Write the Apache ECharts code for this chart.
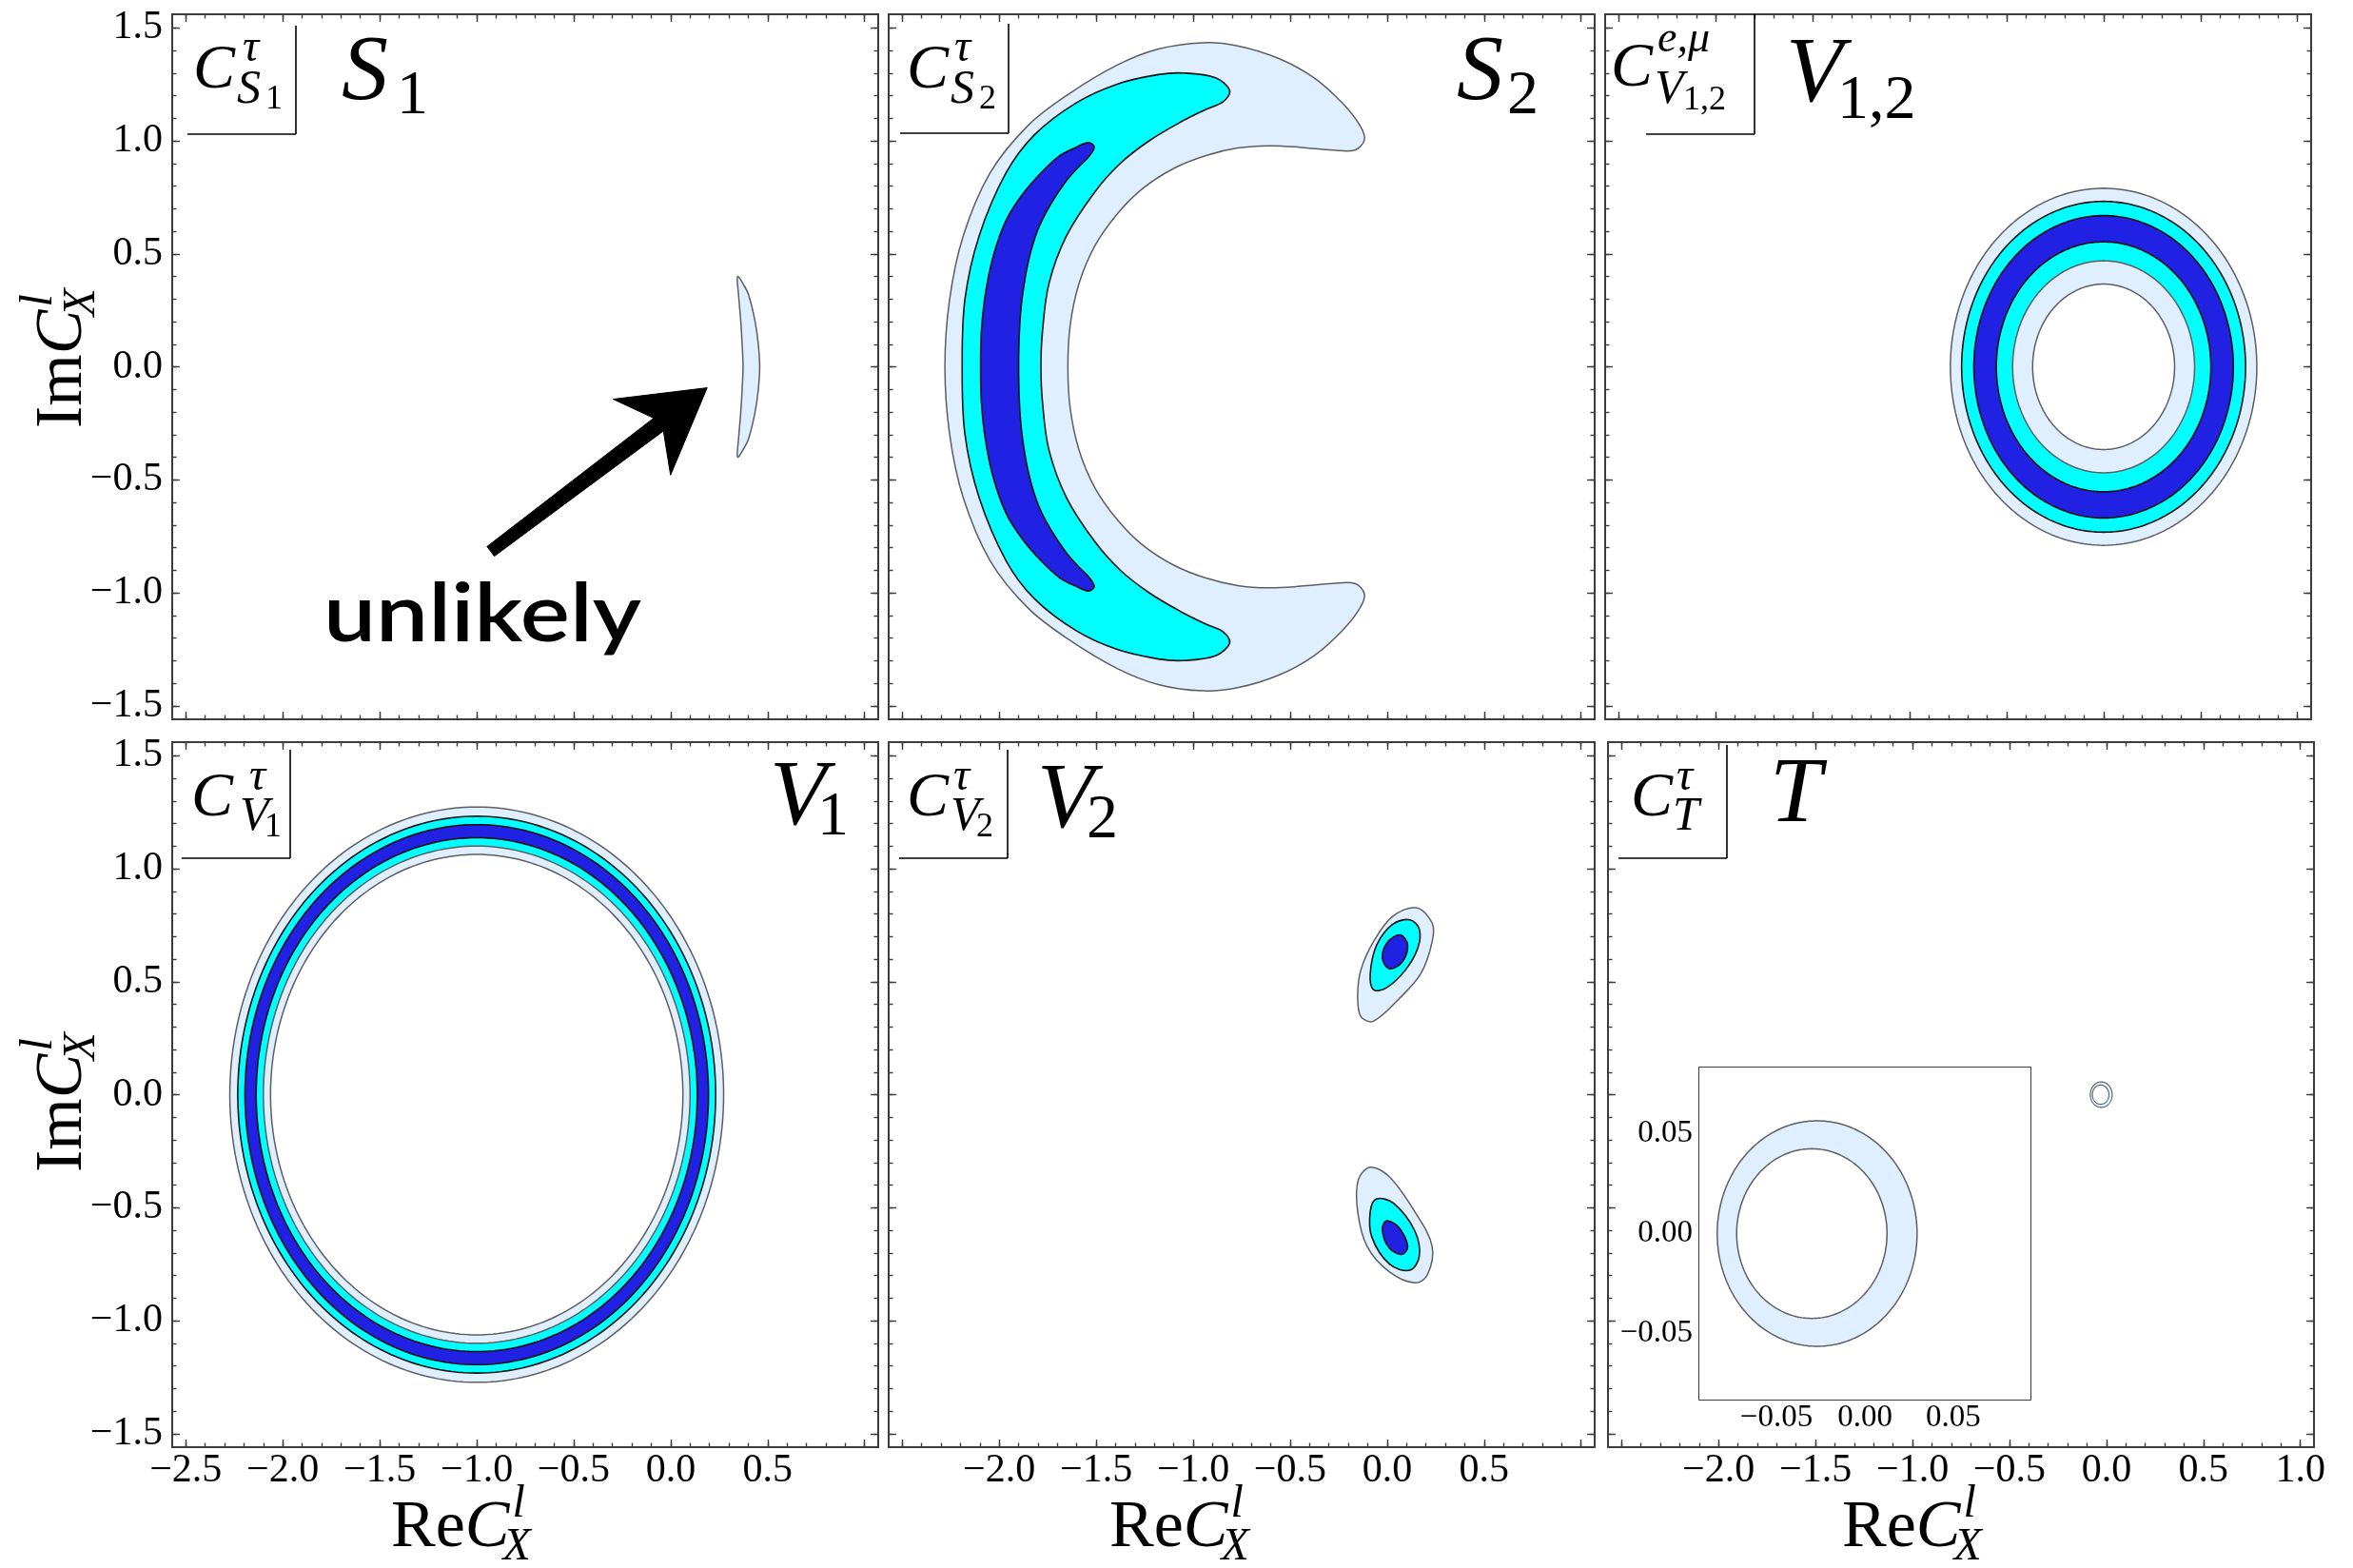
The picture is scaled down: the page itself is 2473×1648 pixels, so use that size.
<!DOCTYPE html>
<html>
<head>
<meta charset="utf-8">
<title>Contours</title>
<script src="https://cdn.jsdelivr.net/npm/echarts@6.0.0/dist/echarts.min.js"></script>
<style>
html,body{margin:0;padding:0;background:#ffffff;}
#chart{width:2473px;height:1648px;}
</style>
</head>
<body>
<div id="chart"></div>
<script>
// ===================== data =====================
const xRange = [-2.57, 1.07];
const yRange = [-1.56, 1.56];
const xMajorTicks = [-2.5, -2.0, -1.5, -1.0, -0.5, 0.0, 0.5, 1.0];
const yMajorTicks = [-1.5, -1.0, -0.5, 0.0, 0.5, 1.0, 1.5];
const yTickLabels = [-1.5, -1.0, -0.5, 0.0, 0.5, 1.0, 1.5];
const xTickLabelsV1 = [-2.5, -2.0, -1.5, -1.0, -0.5, 0.0, 0.5];
const xTickLabelsV2 = [-2.0, -1.5, -1.0, -0.5, 0.0, 0.5];
const xTickLabelsT = [-2.0, -1.5, -1.0, -0.5, 0.0, 0.5, 1.0];
const insetXRange = [-0.0936, 0.0936];
const insetYRange = [-0.0832, 0.0832];
const insetMajorTicks = [-0.05, 0.0, 0.05];
const insetTickLabels = [-0.05, 0.0, 0.05];

// S1: thin sliver
const S1_region = [[0.345,0.400],[0.378,0.360],[0.402,0.318],[0.434,0.206],[0.451,0.107],[0.459,0.000],
  [0.451,-0.107],[0.434,-0.206],[0.402,-0.318],[0.378,-0.360],[0.345,-0.400],[0.350,-0.318],[0.361,-0.206],
  [0.368,-0.107],[0.373,0.000],[0.368,0.107],[0.361,0.206],[0.350,0.318]];

// S2: crescents
const S2_light = [[-2.280,0.000],[-2.256,0.297],[-2.186,0.578],[-2.047,0.858],[-1.850,1.069],[-1.638,1.209],
  [-1.392,1.335],[-1.180,1.406],[-0.951,1.434],[-0.771,1.420],[-0.558,1.364],[-0.378,1.279],[-0.231,1.167],
  [-0.141,1.069],[-0.117,1.006],[-0.166,0.959],
  [-0.280,0.959],[-0.444,0.971],[-0.607,0.978],[-0.771,0.968],[-0.934,0.935],[-1.098,0.879],[-1.262,0.788],
  [-1.392,0.676],[-1.507,0.535],[-1.589,0.367],[-1.634,0.185],[-1.646,0.000],
  [-1.634,-0.185],[-1.589,-0.367],[-1.507,-0.535],[-1.392,-0.676],[-1.262,-0.788],[-1.098,-0.879],
  [-0.934,-0.935],[-0.771,-0.968],[-0.607,-0.978],[-0.444,-0.971],[-0.280,-0.959],[-0.166,-0.959],
  [-0.117,-1.006],[-0.141,-1.069],[-0.231,-1.167],[-0.378,-1.279],[-0.558,-1.364],[-0.771,-1.420],
  [-0.951,-1.434],[-1.180,-1.406],[-1.392,-1.335],[-1.638,-1.209],[-1.850,-1.069],[-2.047,-0.858],
  [-2.186,-0.578],[-2.256,-0.297]];
const S2_cyan = [[-2.191,0.000],[-2.177,0.297],[-2.104,0.578],[-1.965,0.858],[-1.818,1.027],[-1.605,1.167],
  [-1.392,1.251],[-1.180,1.293],[-1.049,1.300],[-0.885,1.279],[-0.812,1.223],[-0.844,1.174],
  [-0.934,1.139],[-1.065,1.083],[-1.229,0.999],[-1.376,0.900],[-1.507,0.774],[-1.654,0.578],[-1.744,0.367],
  [-1.777,0.156],[-1.785,0.000],
  [-1.777,-0.156],[-1.744,-0.367],[-1.654,-0.578],[-1.507,-0.774],[-1.376,-0.900],[-1.229,-0.999],
  [-1.065,-1.083],[-0.934,-1.139],[-0.844,-1.174],
  [-0.812,-1.223],[-0.885,-1.279],[-1.049,-1.300],[-1.180,-1.293],[-1.392,-1.251],[-1.605,-1.167],
  [-1.818,-1.027],[-1.965,-0.858],[-2.104,-0.578],[-2.177,-0.297]];
const S2_blue = [[-2.096,0.000],[-2.092,0.156],[-2.071,0.325],[-2.030,0.493],[-1.965,0.648],[-1.883,0.760],
  [-1.785,0.858],[-1.687,0.935],[-1.605,0.971],[-1.540,0.992],[-1.510,0.973],
  [-1.540,0.928],[-1.589,0.886],[-1.654,0.823],[-1.736,0.718],[-1.801,0.606],[-1.850,0.465],[-1.883,0.297],
  [-1.896,0.156],[-1.900,0.000],
  [-1.896,-0.156],[-1.883,-0.297],[-1.850,-0.465],[-1.801,-0.606],[-1.736,-0.718],[-1.654,-0.823],
  [-1.589,-0.886],[-1.540,-0.928],[-1.510,-0.973],
  [-1.540,-0.992],[-1.605,-0.971],[-1.687,-0.935],[-1.785,-0.858],[-1.883,-0.760],[-1.965,-0.648],
  [-2.030,-0.493],[-2.071,-0.325],[-2.092,-0.156]];

// V1,2 and V1: concentric contour rings (centre, radii from outside in)
const V12_center = [0.0, 0.0];
const V12_radii = [0.790, 0.732, 0.669, 0.553, 0.469, 0.366];
const V1_center = [-1.0, 0.0];
const V1_radii = [1.273, 1.232, 1.195, 1.137, 1.100, 1.063];
const ringLevels = ['light', 'cyan', 'blue', 'cyan', 'light', 'white'];

// V2: two tilted islands
const V2_upper_light = [[0.150,0.827],[0.232,0.760],[0.232,0.676],[0.174,0.536],[0.060,0.423],[-0.071,0.325],
  [-0.136,0.346],[-0.152,0.437],[-0.136,0.550],[-0.071,0.676],[0.027,0.788]];
const V2_upper_cyan = [[0.117,0.774],[0.166,0.732],[0.158,0.648],[0.093,0.550],[-0.005,0.472],[-0.071,0.465],
  [-0.087,0.536],[-0.054,0.662],[0.027,0.753]];
const V2_upper_blue = [[0.068,0.707],[0.106,0.662],[0.076,0.585],[0.011,0.557],[-0.025,0.605],[0.003,0.676]];
const V2_lower_light = [[-0.087,-0.321],[0.011,-0.363],[0.142,-0.517],[0.232,-0.672],[0.207,-0.798],
  [0.142,-0.833],[0.011,-0.784],[-0.103,-0.672],[-0.152,-0.517],[-0.149,-0.377]];
const V2_lower_cyan = [[-0.054,-0.461],[0.035,-0.482],[0.142,-0.602],[0.166,-0.714],[0.117,-0.777],
  [0.011,-0.749],[-0.079,-0.630],[-0.087,-0.517]];
const V2_lower_blue = [[-0.005,-0.559],[0.060,-0.587],[0.106,-0.672],[0.076,-0.707],[0.011,-0.679],[-0.025,-0.602]];

// T: tiny ring (centre x, centre y, radius)
const T_outer = [-0.027, 0.0, 0.0565];
const T_inner = [-0.030, 0.0, 0.0425];

// annotation arrow in panel S1 (data coordinates)
const arrowTail = [-0.928, -0.817];
const arrowTip = [0.188, -0.093];

// ===================== styling / layout =====================
const SERIF = 'Liberation Serif';
const FRAME = '#3c3c3c';
const LEVEL_STYLE = {
  light: {fill: '#E0EFFF', stroke: '#5e5e5e', lw: 1.5},
  cyan:  {fill: '#00FFFF', stroke: '#111111', lw: 1.6},
  blue:  {fill: '#2121E4', stroke: '#111111', lw: 1.6},
  white: {fill: '#FFFFFF', stroke: '#5e5e5e', lw: 1.5}
};
const PW = 742, PH = 741;
const panelBoxes = [[181, 15], [934, 15], [1687, 15], [181, 780], [934, 780], [1690, 780]];
const insetBox = [1786, 1122, 348, 349];

function steps(a, b, step) {
  const out = [];
  const n0 = Math.ceil(a / step - 1e-9), n1 = Math.floor(b / step + 1e-9);
  for (let k = n0; k <= n1; k++) out.push(Math.round(k * step * 1e6) / 1e6);
  return out;
}
const xMinorTicks = steps(-2.5, 1.0, 0.1);
const yMinorTicks = steps(-1.5, 1.5, 0.1);
const insetMinorTicks = steps(-0.09, 0.09, 0.01);

function fmt(dec) {
  return function (v) {
    const s = Math.abs(v).toFixed(dec);
    return (v < -1e-9 ? '\u2212' : '') + s;
  };
}

const xAxes = [], yAxes = [];
function addAxes(g, xr, yr, xMaj, xMin, yMaj, yMin, xLab, yLab, dec, fs, majLen, minLen, xMargin, yMargin) {
  const mk = (pos, range, maj, min, labels, isMajor, showLab, margin) => ({
    type: 'value', gridIndex: g, position: pos, min: range[0], max: range[1],
    axisLine: {show: isMajor, onZero: false, lineStyle: {color: FRAME, width: 2}},
    axisTick: {show: true, inside: true, length: isMajor ? majLen : minLen,
      customValues: isMajor ? maj : min, lineStyle: {color: FRAME, width: 1.4}},
    axisLabel: showLab ? {show: true, customValues: labels, formatter: fmt(dec), margin: margin,
      fontFamily: SERIF, fontSize: fs, color: '#000'} : {show: false},
    splitLine: {show: false}, minorTick: {show: false}, minorSplitLine: {show: false},
    axisPointer: {show: false}, silent: true
  });
  xAxes.push(mk('bottom', xr, xMaj, xMin, xLab, true, xLab.length > 0, xMargin));
  xAxes.push(mk('bottom', xr, xMaj, xMin, [], false, false, 0));
  xAxes.push(mk('top', xr, xMaj, xMin, [], true, false, 0));
  xAxes.push(mk('top', xr, xMaj, xMin, [], false, false, 0));
  yAxes.push(mk('left', yr, yMaj, yMin, yLab, true, yLab.length > 0, yMargin));
  yAxes.push(mk('left', yr, yMaj, yMin, [], false, false, 0));
  yAxes.push(mk('right', yr, yMaj, yMin, [], true, false, 0));
  yAxes.push(mk('right', yr, yMaj, yMin, [], false, false, 0));
}

const panelXLabels = [[], [], [], xTickLabelsV1, xTickLabelsV2, xTickLabelsT];
const panelYLabels = [yTickLabels, [], [], yTickLabels, [], []];
const grids = [];
panelBoxes.forEach((b, i) => {
  grids.push({left: b[0], top: b[1], width: PW, height: PH, show: false});
  addAxes(i, xRange, yRange, xMajorTicks, xMinorTicks, yMajorTicks, yMinorTicks,
    panelXLabels[i], panelYLabels[i], 1, 42, 8, 4.5, 4, 10);
});
grids.push({left: insetBox[0], top: insetBox[1], width: insetBox[2], height: insetBox[3],
  show: true, backgroundColor: '#ffffff', borderWidth: 0, z: 3});
addAxes(6, insetXRange, insetYRange, insetMajorTicks, insetMinorTicks, insetMajorTicks, insetMinorTicks,
  insetTickLabels, insetTickLabels, 2, 33, 7, 4, 3, 7);

function ringShapes(center, radii) {
  return radii.map((r, i) => ({circle: [center[0], center[1], r], level: ringLevels[i]}));
}
const panelShapes = [
  [{poly: S1_region, level: 'light'}],
  [{poly: S2_light, level: 'light'}, {poly: S2_cyan, level: 'cyan'}, {poly: S2_blue, level: 'blue'}],
  ringShapes(V12_center, V12_radii),
  ringShapes(V1_center, V1_radii),
  [{poly: V2_upper_light, level: 'light'}, {poly: V2_upper_cyan, level: 'cyan'}, {poly: V2_upper_blue, level: 'blue'},
   {poly: V2_lower_light, level: 'light'}, {poly: V2_lower_cyan, level: 'cyan'}, {poly: V2_lower_blue, level: 'blue'}],
  [{circle: T_outer, level: 'light', thin: true}, {circle: T_inner, level: 'white', thin: true}],
  [{circle: T_outer, level: 'light'}, {circle: T_inner, level: 'white'}]
];

function shapeRenderer(shapes) {
  return function (params, api) {
    const s = shapes[params.dataIndex];
    const st = LEVEL_STYLE[s.level];
    const lw = s.thin ? 1.1 : st.lw;
    if (s.circle) {
      const cx = s.circle[0], cy = s.circle[1], r = s.circle[2];
      const pts = [];
      for (let k = 0; k < 240; k++) {
        const a = 2 * Math.PI * k / 240;
        pts.push(api.coord([cx + r * Math.cos(a), cy + r * Math.sin(a)]));
      }
      return {type: 'polygon', shape: {points: pts}, style: {fill: st.fill, stroke: st.stroke, lineWidth: lw}};
    }
    const pts = s.poly.map(p => api.coord(p));
    return {type: 'polygon', shape: {points: pts, smooth: 0.35},
      style: {fill: st.fill, stroke: st.stroke, lineWidth: lw}};
  };
}

const series = panelShapes.map((shapes, g) => ({
  type: 'custom', name: 'contours' + g, coordinateSystem: 'cartesian2d',
  xAxisIndex: 4 * g, yAxisIndex: 4 * g, silent: true, clip: false, z: g === 6 ? 5 : 2,
  data: shapes.map(s => s.circle ? [s.circle[0], s.circle[1]] : s.poly[0]),
  renderItem: shapeRenderer(shapes)
}));
series.push({
  type: 'custom', name: 'arrow', coordinateSystem: 'cartesian2d', xAxisIndex: 0, yAxisIndex: 0,
  silent: true, clip: false, z: 4, data: [arrowTail],
  renderItem: function (params, api) {
    const a = api.coord(arrowTail), b = api.coord(arrowTip);
    const dx = b[0] - a[0], dy = b[1] - a[1], L = Math.hypot(dx, dy);
    const ux = dx / L, uy = dy / L, nx = -uy, ny = ux;
    const P = (t, n) => [a[0] + ux * t + nx * n, a[1] + uy * t + ny * n];
    const hl = 86, hw = 50, sw = 8.5, notch = 64;
    const pts = [P(0, -sw * 0.75), P(L - notch, -sw), P(L - hl, -hw), P(L, 0), P(L - hl, hw), P(L - notch, sw), P(0, sw * 0.75)];
    return {type: 'polygon', shape: {points: pts}, style: {fill: '#000', stroke: '#000', lineWidth: 1}};
  }
});

// ===================== text annotations =====================
const mctx = document.createElement('canvas').getContext('2d');
function measure(t, font) { mctx.font = font; return mctx.measureText(t).width; }
function fontOf(size, italic, fam, weight) {
  return (italic ? 'italic ' : '') + (weight ? weight + ' ' : '') + size + 'px "' + (fam || SERIF) + '"';
}
function txt(t, x, base, size, italic, fam, weight, mid) {
  const m = mid == null ? 0.3375 : mid;
  return {type: 'text', x: x, y: base - m * size, z: 100, silent: true,
    style: {text: t, font: fontOf(size, italic, fam, weight), fill: '#000',
      align: 'left', verticalAlign: 'middle', textAlign: 'left', textVerticalAlign: 'middle'}};
}
function ln(x1, y1, x2, y2) {
  return {type: 'line', z: 100, silent: true, shape: {x1: x1, y1: y1, x2: x2, y2: y2},
    style: {stroke: '#000', lineWidth: 1.6}};
}
const G = [];
// legends and panel labels
(function () {
  let L = panelBoxes[0][0], T = panelBoxes[0][1];
  G.push(txt('C', L + 22, T + 82, 66, true), txt('\u03C4', L + 74, T + 53, 48, true),
    txt('S', L + 68, T + 97, 50, true), txt('1', L + 98, T + 102, 36, false),
    ln(L + 130, T + 12, L + 130, T + 126), ln(L + 16, T + 126, L + 130, T + 126),
    txt('S', L + 178, T + 96, 98, true), txt('1', L + 236, T + 109, 66, false));
  L = panelBoxes[1][0]; T = panelBoxes[1][1];
  G.push(txt('C', L + 19, T + 82, 66, true), txt('\u03C4', L + 69, T + 53, 48, true),
    txt('S', L + 65, T + 97, 50, true), txt('2', L + 95, T + 102, 36, false),
    ln(L + 126, T + 10, L + 126, T + 125), ln(L + 12, T + 125, L + 126, T + 125),
    txt('S', L + 597, T + 96, 98, true), txt('2', L + 650, T + 109, 66, false));
  L = panelBoxes[2][0]; T = panelBoxes[2][1];
  G.push(txt('C', L + 6, T + 80, 66, true), txt('e,\u03BC', L + 55, T + 42, 46, true),
    txt('V', L + 52, T + 97, 50, true), txt('1,2', L + 82, T + 103, 36, false),
    ln(L + 157, T + 0, L + 157, T + 126), ln(L + 43, T + 126, L + 157, T + 126),
    txt('V', L + 190, T + 98, 98, true), txt('1,2', L + 244, T + 114, 66, false));
  L = panelBoxes[3][0]; T = panelBoxes[3][1];
  G.push(txt('C', L + 20, T + 82, 66, true), txt('\u03C4', L + 81, T + 54, 48, true),
    txt('V', L + 71, T + 96, 50, true), txt('1', L + 97, T + 102, 36, false),
    ln(L + 124, T + 8, L + 124, T + 122), ln(L + 10, T + 122, L + 124, T + 122),
    txt('V', L + 628, T + 93, 98, true), txt('1', L + 678, T + 102, 66, false));
  L = panelBoxes[4][0]; T = panelBoxes[4][1];
  G.push(txt('C', L + 19, T + 82, 66, true), txt('\u03C4', L + 68, T + 54, 48, true),
    txt('V', L + 65, T + 96, 50, true), txt('2', L + 92, T + 102, 36, false),
    ln(L + 125, T + 8, L + 125, T + 122), ln(L + 11, T + 122, L + 125, T + 122),
    txt('V', L + 156, T + 96, 98, true), txt('2', L + 208, T + 105, 66, false));
  L = panelBoxes[5][0]; T = panelBoxes[5][1];
  G.push(txt('C', L + 24, T + 82, 66, true), txt('\u03C4', L + 72, T + 54, 48, true),
    txt('T', L + 68, T + 96, 50, true),
    ln(L + 125, T + 3, L + 125, T + 122), ln(L + 11, T + 122, L + 125, T + 122),
    txt('T', L + 170, T + 90, 98, true));
})();

// axis titles  Re C^l_X  and  Im C^l_X
function axisTitleChildren(prefix) {
  const s = 70, ss = 48;
  const kids = [];
  let x = 0;
  kids.push(txt(prefix, x, 0, s, false)); x += measure(prefix, fontOf(s, false));
  kids.push(txt('C', x, 0, s, true)); x += measure('C', fontOf(s, true));
  kids.push(txt('l', x + 3, -32, ss, true));
  kids.push(txt('X', x - 7, 13, ss, true));
  return kids;
}
[[411, 1630], [1166, 1630], [1936, 1630]].forEach(p => {
  G.push({type: 'group', x: p[0], y: p[1], children: axisTitleChildren('Re')});
});
[[90, 450], [90, 1232]].forEach(p => {
  G.push({type: 'group', x: p[0], y: p[1], rotation: Math.PI / 2, children: axisTitleChildren('Im')});
});

// "unlikely"
(function () {
  const f = fontOf(84, false, 'Lato', '600');
  const w = measure('unlikely', f);
  const el = txt('unlikely', 0, 0, 84, false, 'Lato', '600', 0.387);
  G.push({type: 'group', x: 340, y: 679, scaleX: 334 / w, children: [el]});
})();

// ===================== chart =====================
const chart = echarts.init(document.getElementById('chart'), null, {renderer: 'canvas', width: 2473, height: 1648});
chart.setOption({
  animation: false,
  backgroundColor: '#ffffff',
  grid: grids,
  xAxis: xAxes,
  yAxis: yAxes,
  series: series,
  graphic: {elements: G}
});
</script>
</body>
</html>
